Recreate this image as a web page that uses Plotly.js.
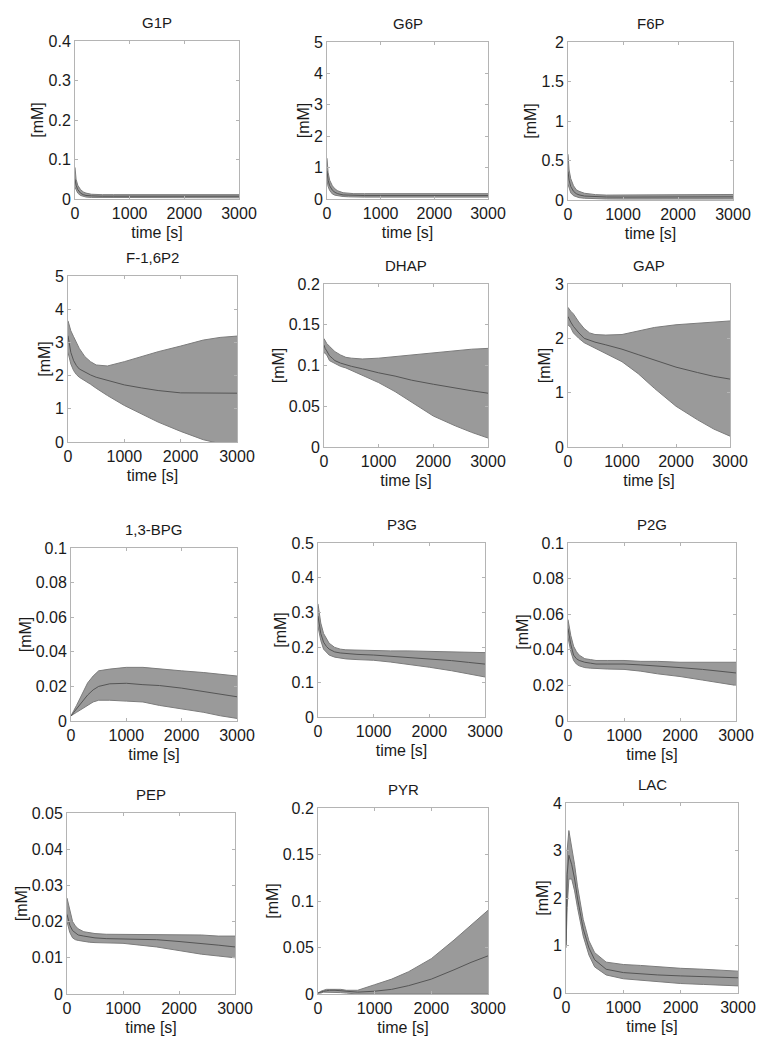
<!DOCTYPE html>
<html>
<head>
<meta charset="utf-8">
<script src="https://cdn.plot.ly/plotly-3.0.1.min.js"></script>
<style>
  html, body { margin: 0; padding: 0; background: #fff; }
  #chart { width: 765px; height: 1050px; }
</style>
</head>
<body>
<div id="chart"></div>
<script>
/* global Plotly */
// glycolysis metabolites: mean trajectory + uncertainty band, 4x3 panels

// time points [s]
const T = [0, 20, 50, 100, 150, 200, 300, 400, 500, 700, 1000, 1300, 1600, 2000, 2400, 2700, 3000];

// per metabolite: lower bound, mean, upper bound [mM]
const g1pLo  = [0.03, 0.022, 0.015, 0.009, 0.006, 0.005, 0.004, 0.004, 0.003, 0.003, 0.003, 0.003, 0.003, 0.003, 0.003, 0.003, 0.003];
const g1pMid = [0.05, 0.035, 0.024, 0.015, 0.011, 0.009, 0.008, 0.007, 0.007, 0.007, 0.007, 0.007, 0.007, 0.007, 0.007, 0.007, 0.007];
const g1pHi  = [0.08, 0.05, 0.035, 0.024, 0.018, 0.015, 0.012, 0.011, 0.011, 0.011, 0.011, 0.011, 0.011, 0.011, 0.011, 0.011, 0.011];

const g6pLo  = [0.6, 0.4, 0.27, 0.16, 0.12, 0.1, 0.08, 0.07, 0.06, 0.06, 0.06, 0.06, 0.06, 0.06, 0.06, 0.06, 0.06];
const g6pMid = [0.9, 0.6, 0.42, 0.28, 0.21, 0.17, 0.13, 0.12, 0.11, 0.11, 0.11, 0.11, 0.11, 0.11, 0.11, 0.11, 0.11];
const g6pHi  = [1.3, 0.85, 0.6, 0.42, 0.32, 0.26, 0.2, 0.18, 0.17, 0.17, 0.17, 0.17, 0.17, 0.17, 0.17, 0.17, 0.17];

const f6pLo  = [0.2, 0.14, 0.09, 0.055, 0.04, 0.03, 0.022, 0.018, 0.015, 0.013, 0.012, 0.012, 0.013, 0.013, 0.013, 0.013, 0.013];
const f6pMid = [0.36, 0.25, 0.17, 0.11, 0.08, 0.065, 0.05, 0.045, 0.04, 0.038, 0.037, 0.037, 0.04, 0.04, 0.04, 0.04, 0.04];
const f6pHi  = [0.58, 0.38, 0.27, 0.18, 0.13, 0.11, 0.085, 0.075, 0.068, 0.062, 0.062, 0.062, 0.068, 0.07, 0.07, 0.07, 0.07];

const fbpLo  = [2.7, 2.55, 2.35, 2.15, 2.03, 1.95, 1.85, 1.74, 1.62, 1.4, 1.1, 0.85, 0.6, 0.32, 0.07, -0.05, -0.3];
const fbpMid = [3.2, 2.95, 2.7, 2.45, 2.3, 2.2, 2.1, 2.02, 1.95, 1.85, 1.72, 1.63, 1.55, 1.48, 1.47, 1.47, 1.47];
const fbpHi  = [3.65, 3.5, 3.35, 3.17, 2.98, 2.82, 2.57, 2.42, 2.32, 2.29, 2.42, 2.57, 2.72, 2.89, 3.07, 3.15, 3.19];

const dhapLo  = [0.116, 0.115, 0.113, 0.106, 0.104, 0.102, 0.099, 0.097, 0.094, 0.088, 0.079, 0.068, 0.055, 0.038, 0.026, 0.018, 0.011];
const dhapMid = [0.125, 0.121, 0.118, 0.112, 0.109, 0.106, 0.103, 0.101, 0.099, 0.096, 0.091, 0.087, 0.082, 0.077, 0.072, 0.069, 0.066];
const dhapHi  = [0.133, 0.13, 0.127, 0.1235, 0.12, 0.117, 0.113, 0.11, 0.109, 0.108, 0.109, 0.111, 0.113, 0.115, 0.118, 0.12, 0.121];

const gapLo  = [2.25, 2.23, 2.2, 2.1, 2.05, 2.0, 1.92, 1.87, 1.82, 1.72, 1.57, 1.35, 1.08, 0.75, 0.5, 0.33, 0.2];
const gapMid = [2.4, 2.35, 2.3, 2.22, 2.15, 2.1, 2.0, 1.96, 1.93, 1.88, 1.8, 1.7, 1.6, 1.47, 1.37, 1.3, 1.25];
const gapHi  = [2.57, 2.53, 2.5, 2.45, 2.37, 2.3, 2.18, 2.1, 2.07, 2.06, 2.07, 2.13, 2.2, 2.25, 2.28, 2.31, 2.32];

const bpgLo  = [0.003, 0.0033, 0.004, 0.005, 0.006, 0.007, 0.009, 0.011, 0.012, 0.012, 0.0115, 0.011, 0.009, 0.007, 0.005, 0.003, 0.0015];
const bpgMid = [0.003, 0.0035, 0.005, 0.007, 0.009, 0.011, 0.015, 0.018, 0.02, 0.0215, 0.0218, 0.021, 0.0205, 0.019, 0.017, 0.0155, 0.014];
const bpgHi  = [0.003, 0.004, 0.006, 0.009, 0.0125, 0.016, 0.022, 0.026, 0.029, 0.030, 0.031, 0.031, 0.030, 0.029, 0.028, 0.027, 0.026];

const p3gLo  = [0.26, 0.24, 0.22, 0.195, 0.185, 0.178, 0.172, 0.169, 0.167, 0.165, 0.163, 0.158, 0.152, 0.143, 0.133, 0.124, 0.115];
const p3gMid = [0.29, 0.265, 0.24, 0.215, 0.203, 0.195, 0.187, 0.184, 0.182, 0.18, 0.178, 0.175, 0.172, 0.167, 0.162, 0.157, 0.152];
const p3gHi  = [0.325, 0.3, 0.27, 0.24, 0.225, 0.212, 0.2, 0.195, 0.193, 0.192, 0.19, 0.19, 0.19, 0.188, 0.187, 0.186, 0.185];

const p2gLo  = [0.047, 0.043, 0.039, 0.034, 0.032, 0.031, 0.030, 0.0297, 0.0295, 0.0292, 0.029, 0.028, 0.0265, 0.025, 0.023, 0.0215, 0.020];
const p2gMid = [0.052, 0.048, 0.043, 0.037, 0.035, 0.034, 0.033, 0.0325, 0.032, 0.032, 0.032, 0.0315, 0.031, 0.030, 0.029, 0.028, 0.027];
const p2gHi  = [0.057, 0.053, 0.048, 0.042, 0.039, 0.037, 0.035, 0.0345, 0.034, 0.034, 0.034, 0.0335, 0.0335, 0.033, 0.033, 0.033, 0.033];

const pepLo  = [0.02, 0.0185, 0.017, 0.0155, 0.015, 0.0148, 0.0145, 0.0143, 0.0142, 0.0141, 0.014, 0.0135, 0.013, 0.012, 0.011, 0.0105, 0.010];
const pepMid = [0.022, 0.0205, 0.019, 0.0175, 0.0168, 0.0163, 0.016, 0.0157, 0.0155, 0.0153, 0.0152, 0.0151, 0.015, 0.0145, 0.014, 0.0135, 0.013];
const pepHi  = [0.0265, 0.025, 0.023, 0.020, 0.0188, 0.018, 0.0172, 0.0169, 0.0167, 0.0165, 0.0165, 0.0165, 0.0165, 0.0165, 0.0163, 0.016, 0.016];

const pyrLo  = [0.001, 0.001, 0.001, 0.002, 0.002, 0.002, 0.002, 0.0015, 0.001, 0, 0, 0, 0, 0, 0, 0, 0];
const pyrMid = [0.001, 0.0015, 0.002, 0.003, 0.0035, 0.004, 0.004, 0.0035, 0.003, 0.002, 0.003, 0.005, 0.009, 0.016, 0.026, 0.034, 0.041];
const pyrHi  = [0.001, 0.002, 0.003, 0.004, 0.005, 0.005, 0.005, 0.005, 0.004, 0.004, 0.01, 0.016, 0.024, 0.038, 0.058, 0.074, 0.09];

const lacLo  = [0.95, 1.8, 2.4, 2.4, 2.15, 1.8, 1.2, 0.8, 0.55, 0.38, 0.3, 0.27, 0.24, 0.2, 0.18, 0.16, 0.15];
const lacMid = [1.0, 2.5, 2.9, 2.7, 2.4, 2.0, 1.35, 0.95, 0.7, 0.5, 0.43, 0.4, 0.38, 0.36, 0.34, 0.33, 0.32];
const lacHi  = [1.1, 3.0, 3.42, 3.1, 2.7, 2.25, 1.55, 1.1, 0.85, 0.65, 0.6, 0.58, 0.55, 0.52, 0.5, 0.48, 0.46];

const NAMES = ['G1P', 'G6P', 'F6P', 'F-1,6P2', 'DHAP', 'GAP', '1,3-BPG', 'P3G', 'P2G', 'PEP', 'PYR', 'LAC'];
const Y_MAX  = [0.4, 5, 2, 5, 0.2, 3, 0.1, 0.5, 0.1, 0.05, 0.2, 4];
const Y_STEP = [0.1, 1, 0.5, 1, 0.05, 1, 0.02, 0.1, 0.02, 0.01, 0.05, 1];

const LO  = [g1pLo, g6pLo, f6pLo, fbpLo, dhapLo, gapLo, bpgLo, p3gLo, p2gLo, pepLo, pyrLo, lacLo];
const MID = [g1pMid, g6pMid, f6pMid, fbpMid, dhapMid, gapMid, bpgMid, p3gMid, p2gMid, pepMid, pyrMid, lacMid];
const HI  = [g1pHi, g6pHi, f6pHi, fbpHi, dhapHi, gapHi, bpgHi, p3gHi, p2gHi, pepHi, pyrHi, lacHi];

// plot boxes in pixels: left, right, top, bottom
const W = 765, H = 1050;
const BOX = [
  [75, 239, 41, 199], [327, 488, 42, 199], [568, 733, 42, 200],
  [68, 237, 276, 442], [324, 488, 284, 447], [568, 730, 284, 447],
  [71, 237, 548, 721], [318, 485, 543, 717], [568, 736, 543, 721],
  [67, 235, 813, 994], [318, 488, 808, 994], [566, 738, 803, 993]
];

const FRAME = '#b4b4b4';
const axStyle = {
  showline: true, linecolor: FRAME, linewidth: 1, mirror: 'ticks',
  ticks: 'inside', ticklen: 3, tickcolor: FRAME, tickwidth: 1,
  showgrid: false, zeroline: false, fixedrange: true,
  tickfont: { size: 16, color: '#1a1a1a' }
};

const data = [];
const layout = {
  width: W, height: H,
  margin: { l: 0, r: 0, t: 0, b: 0 },
  showlegend: false,
  paper_bgcolor: '#fff', plot_bgcolor: '#fff',
  font: { family: 'Liberation Sans, Arial, sans-serif', size: 15, color: '#1a1a1a' },
  annotations: []
};

NAMES.forEach((name, i) => {
  const n = i === 0 ? '' : String(i + 1);
  const xa = 'x' + n, ya = 'y' + n;
  const [l, r, t, b] = BOX[i];

  // band: lower edge, then upper filled down to it, then the mean
  data.push({ x: T, y: LO[i], xaxis: xa, yaxis: ya, mode: 'lines',
    line: { color: '#7c7c7c', width: 1 }, hoverinfo: 'skip' });
  data.push({ x: T, y: HI[i], xaxis: xa, yaxis: ya, mode: 'lines', fill: 'tonexty',
    fillcolor: '#9a9a9a', line: { color: '#7c7c7c', width: 1 }, hoverinfo: 'skip' });
  data.push({ x: T, y: MID[i], xaxis: xa, yaxis: ya, mode: 'lines',
    line: { color: '#555555', width: 1 }, hoverinfo: 'skip' });

  layout['xaxis' + n] = Object.assign({}, axStyle, {
    anchor: ya, domain: [l / W, r / W], range: [0, 3000], tick0: 0, dtick: 1000,
    title: { text: 'time [s]', standoff: 5, font: { size: 16 } }
  });
  layout['yaxis' + n] = Object.assign({}, axStyle, {
    anchor: xa, domain: [1 - b / H, 1 - t / H], range: [0, Y_MAX[i]], tick0: 0, dtick: Y_STEP[i],
    title: { text: '[mM]', standoff: 0, font: { size: 16 } }
  });
  layout.annotations.push({
    text: name, xref: 'paper', yref: 'paper',
    x: (l + r) / 2 / W, y: 1 - t / H, xanchor: 'center', yanchor: 'bottom',
    yshift: 8, showarrow: false, font: { size: 15, color: '#1a1a1a' }
  });
});

Plotly.newPlot('chart', data, layout, { displayModeBar: false, staticPlot: true });
</script>
</body>
</html>
